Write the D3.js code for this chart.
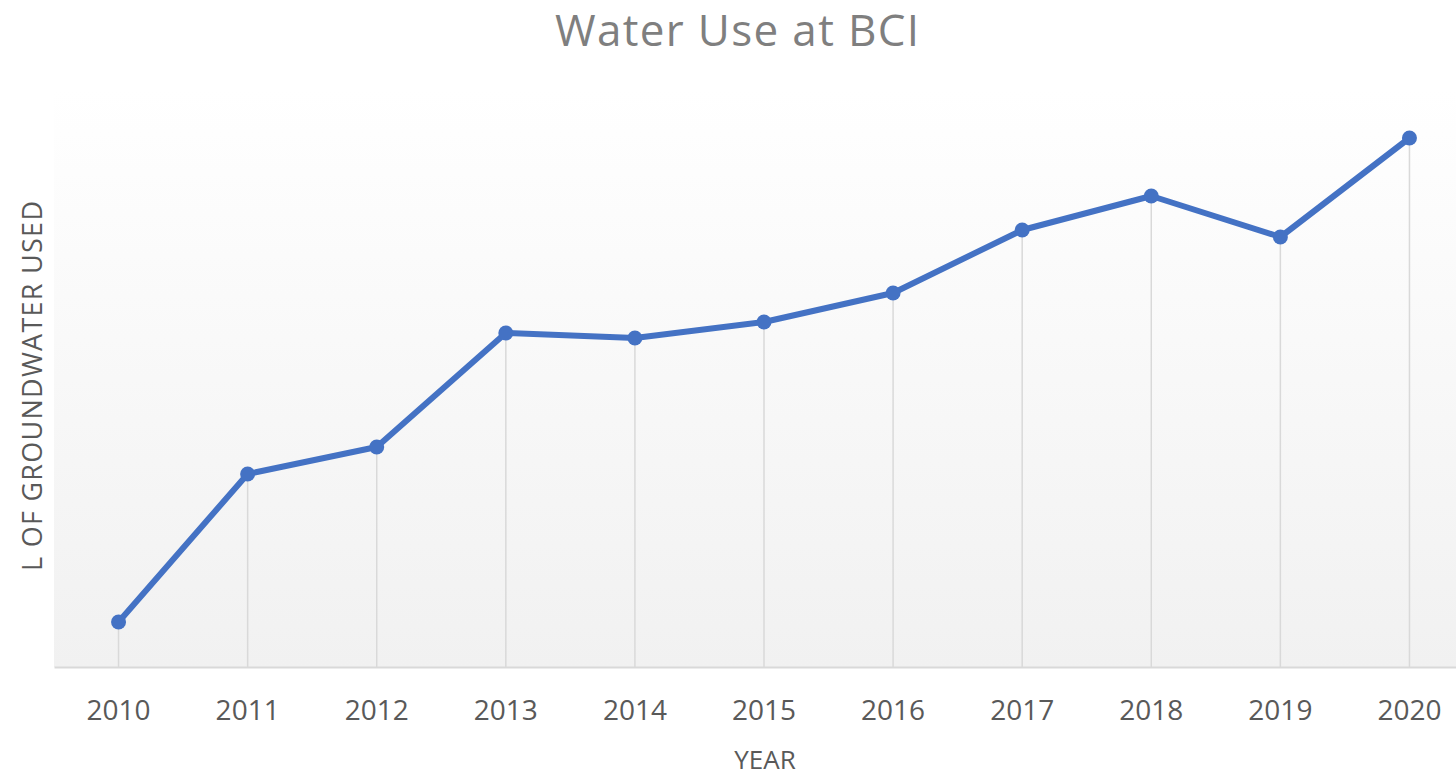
<!DOCTYPE html>
<html>
<head>
<meta charset="utf-8">
<script src="https://cdn.jsdelivr.net/npm/d3@7"></script>
<style>
  body { margin: 0; background: #fff; }
  svg { display: block; }
</style>
</head>
<body>
<svg id="chart" width="1456" height="776"></svg>
<script>
// data (no y ticks shown, units are relative)
const years = ["2010", "2011", "2012", "2013", "2014", "2015", "2016", "2017", "2018", "2019", "2020"]
const groundwater = [45, 193, 220, 334, 329, 345, 374, 437, 471, 430, 529]

const width = 1456, height = 776
const margin = { top: 90, right: -18, bottom: 109, left: 54 }

const svg = d3.select('#chart')

const x = d3.scaleBand()
  .domain(years)
  .range([margin.left, width - margin.right])

const y = d3.scaleLinear()
  .domain([0, 577])
  .range([height - margin.bottom, margin.top])

// plot area gradient
const grad = svg.append('defs').append('linearGradient')
  .attr('id', 'plotGrad')
  .attr('x1', 0).attr('y1', 0).attr('x2', 0).attr('y2', 1)
grad.append('stop').attr('offset', '0%').attr('stop-color', '#ffffff')
grad.append('stop').attr('offset', '100%').attr('stop-color', '#f1f1f1')

svg.append('rect')
  .attr('x', margin.left)
  .attr('y', margin.top)
  .attr('width', width - margin.left)
  .attr('height', y(0) - margin.top)
  .attr('fill', 'url(#plotGrad)')

// drop lines
svg.append('g')
  .selectAll('line')
  .data(years)
  .join('line')
  .attr('x1', d => x(d) + x.bandwidth() / 2)
  .attr('x2', d => x(d) + x.bandwidth() / 2)
  .attr('y1', (d, i) => y(groundwater[i]))
  .attr('y2', y(0))
  .attr('stroke', '#d9d9d9')
  .attr('stroke-width', 1.5)

// x axis
const xAxis = svg.append('g')
  .attr('transform', `translate(0,${y(0)})`)
  .call(d3.axisBottom(x).tickSize(0).tickPadding(33))
xAxis.select('.domain').attr('stroke', '#d9d9d9').attr('stroke-width', 2)
xAxis.selectAll('text')
  .attr('font-family', "'Open Sans', sans-serif")
  .attr('font-size', 28)
  .attr('fill', '#595959')

// line + markers
const line = d3.line()
  .x((d, i) => x(years[i]) + x.bandwidth() / 2)
  .y(d => y(d))

svg.append('path')
  .datum(groundwater)
  .attr('d', line)
  .attr('fill', 'none')
  .attr('stroke', '#4472c4')
  .attr('stroke-width', 6)
  .attr('stroke-linejoin', 'round')

svg.append('g')
  .selectAll('circle')
  .data(groundwater)
  .join('circle')
  .attr('cx', (d, i) => x(years[i]) + x.bandwidth() / 2)
  .attr('cy', d => y(d))
  .attr('r', 7.5)
  .attr('fill', '#4472c4')

// titles
svg.append('text')
  .attr('x', 737).attr('y', 46)
  .attr('text-anchor', 'middle')
  .attr('font-family', "'Open Sans', sans-serif")
  .attr('font-size', 44)
  .attr('textLength', 364)
  .attr('fill', '#7f7f7f')
  .text('Water Use at BCI')

svg.append('text')
  .attr('x', 765).attr('y', 769)
  .attr('text-anchor', 'middle')
  .attr('font-family', "'Open Sans', sans-serif")
  .attr('font-size', 26)
  .attr('fill', '#595959')
  .text('YEAR')

svg.append('text')
  .attr('transform', 'translate(42,386) rotate(-90)')
  .attr('text-anchor', 'middle')
  .attr('font-family', "'Open Sans', sans-serif")
  .attr('font-size', 27)
  .attr('textLength', 370)
  .attr('fill', '#595959')
  .text('L OF GROUNDWATER USED')
</script>
</body>
</html>
